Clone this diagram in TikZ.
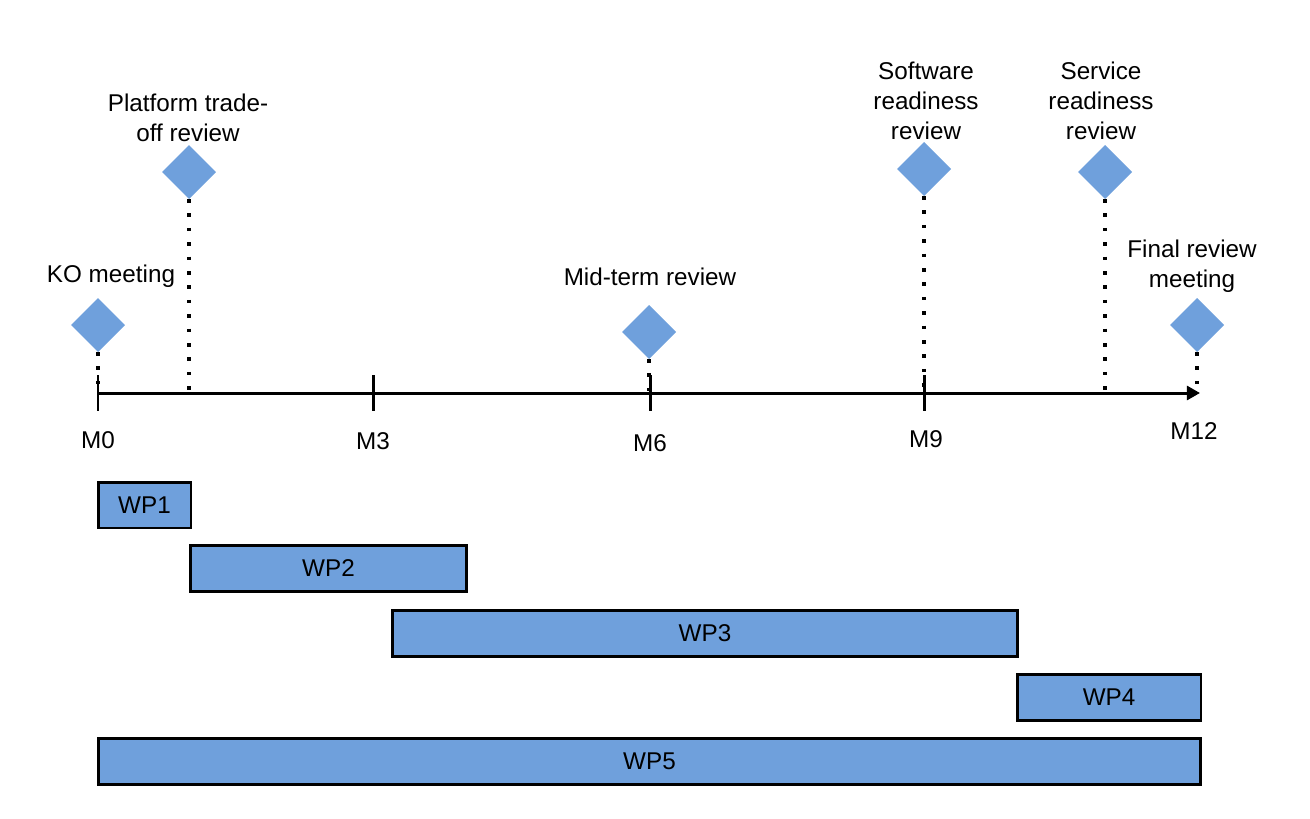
\documentclass[tikz,border=0pt]{standalone}
\usepackage{fontspec}
\setmainfont{Liberation Sans}
\usetikzlibrary{arrows.meta,positioning,shapes.geometric}
\definecolor{msblue}{RGB}{111,160,220}
\tikzset{%
   ms/.style={diamond, aspect=1, inner sep=0mm, outer sep=0mm, minimum size=1.08cm, fill=msblue},
   wp/.style={rectangle, draw=black, line width=1.7pt, fill=msblue, inner sep=0mm, minimum height=0.92cm},
   lbl/.style={align=center, inner sep=0pt},
   mtick/.style={line width=1.7pt},
   dots/.style={line width=2pt, dash pattern=on 2pt off 6.2pt},
   axis/.style={line width=1.7pt, -{Triangle[length=7.5pt, width=8pt]}},
}

\begin{document}
\begin{tikzpicture}[x=0.02cm, y=-0.02cm, font=\fontsize{13.8}{17}\selectfont]
   \useasboundingbox (0,0) rectangle (1310,818);
   % months on the axis
   \coordinate (m0) at (98,393);
   \coordinate (m3) at (373,393);
   \coordinate (m6) at (650,393);
   \coordinate (m9) at (924,393);
   \coordinate (m12) at (1200,393);
   % milestones
   \node[ms] (ko) at (98,325) {};
   \node[ms] (pt) at (189,172) {};
   \node[ms] (mt) at (649,332) {};
   \node[ms] (sw) at (924,169) {};
   \node[ms] (sv) at (1105,172) {};
   \node[ms] (fr) at (1197,325) {};
   \node[lbl] (kol) at (111,276) {KO meeting};
   \node[lbl] (ptl) at (188,118) {Platform trade-\\off review};
   \node[lbl] (mtl) at (650,277) {Mid-term review};
   \node[lbl] (swl) at (926,101) {Software\\readiness\\review};
   \node[lbl] (svl) at (1101,101) {Service\\readiness\\review};
   \node[lbl] (frl) at (1192,266) {Final review\\meeting};
   \draw[dots] (ko.south) -- (ko.south |- m0);
   \draw[dots] (pt.south) -- (pt.south |- m0);
   \draw[dots] (mt.south) -- (mt.south |- m0);
   \draw[dots] (sw.south) -- (sw.south |- m0);
   \draw[dots] (sv.south) -- (sv.south |- m0);
   \draw[dots] (fr.south) -- (fr.south |- m0);
   % time axis
   \draw[axis] (m0) -- (m12);
   \draw[mtick] (m0) ++(0,-18) -- ++(0,36);
   \draw[mtick] (m3) ++(0,-18) -- ++(0,36);
   \draw[mtick] (m6) ++(0,-18) -- ++(0,36);
   \draw[mtick] (m9) ++(0,-18) -- ++(0,36);
   \node (m0l) at (98,440) {M0};
   \node (m3l) at (373,441) {M3};
   \node (m6l) at (650,443) {M6};
   \node (m9l) at (926,439) {M9};
   \node (m12l) at (1194,431) {M12};
   % work packages
   \node[wp, minimum width=1.86cm] (wp1) at (144.5,505) {WP1};
   \node[wp, minimum width=5.54cm] (wp2) at (328.5,568) {WP2};
   \node[wp, minimum width=12.52cm] (wp3) at (705,633) {WP3};
   \node[wp, minimum width=3.68cm] (wp4) at (1109,697) {WP4};
   \node[wp, minimum width=22.06cm] (wp5) at (649.5,761) {WP5};
\end{tikzpicture}
\end{document}
